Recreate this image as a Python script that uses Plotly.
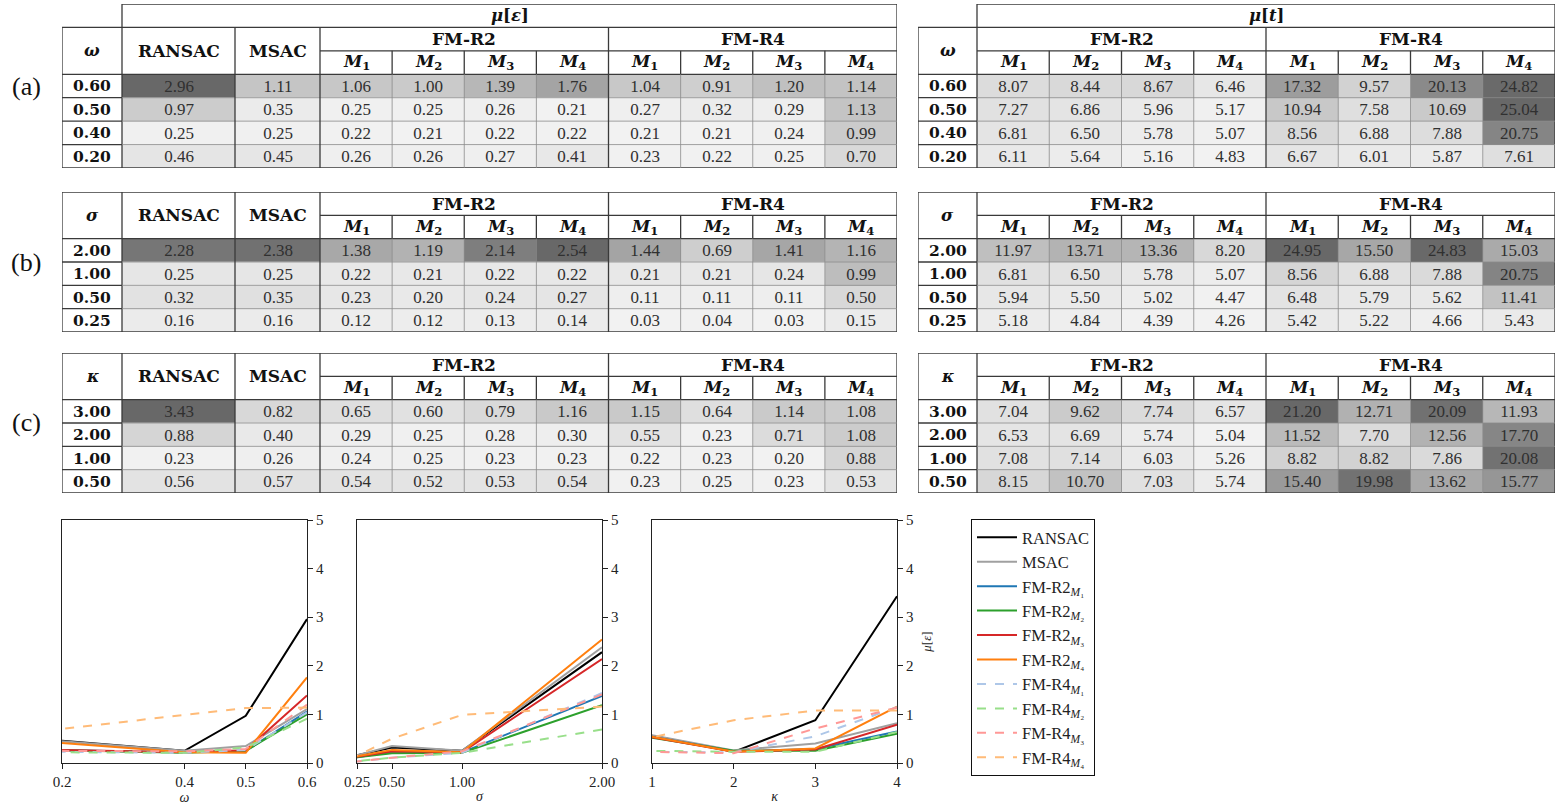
import plotly.graph_objects as go

# ---------------------------------------------------------------- data
omega = [0.60, 0.50, 0.40, 0.20]
sigma = [2.00, 1.00, 0.50, 0.25]
kappa = [3.00, 2.00, 1.00, 0.50]

methods = ["M₁", "M₂", "M₃", "M₄"]
groups = ["FM-R2", "FM-R4"]
baselines = ["RANSAC", "MSAC"]

# mean error mu[eps], varying omega
eps_omega_ransac = [2.96, 0.97, 0.25, 0.46]
eps_omega_msac = [1.11, 0.35, 0.25, 0.45]
eps_omega_r2 = [[1.06, 1.00, 1.39, 1.76], [0.25, 0.25, 0.26, 0.21],
                [0.22, 0.21, 0.22, 0.22], [0.26, 0.26, 0.27, 0.41]]
eps_omega_r4 = [[1.04, 0.91, 1.20, 1.14], [0.27, 0.32, 0.29, 1.13],
                [0.21, 0.21, 0.24, 0.99], [0.23, 0.22, 0.25, 0.70]]
# mean time mu[t], varying omega
time_omega_r2 = [[8.07, 8.44, 8.67, 6.46], [7.27, 6.86, 5.96, 5.17],
                 [6.81, 6.50, 5.78, 5.07], [6.11, 5.64, 5.16, 4.83]]
time_omega_r4 = [[17.32, 9.57, 20.13, 24.82], [10.94, 7.58, 10.69, 25.04],
                 [8.56, 6.88, 7.88, 20.75], [6.67, 6.01, 5.87, 7.61]]

# varying sigma
eps_sigma_ransac = [2.28, 0.25, 0.32, 0.16]
eps_sigma_msac = [2.38, 0.25, 0.35, 0.16]
eps_sigma_r2 = [[1.38, 1.19, 2.14, 2.54], [0.22, 0.21, 0.22, 0.22],
                [0.23, 0.20, 0.24, 0.27], [0.12, 0.12, 0.13, 0.14]]
eps_sigma_r4 = [[1.44, 0.69, 1.41, 1.16], [0.21, 0.21, 0.24, 0.99],
                [0.11, 0.11, 0.11, 0.50], [0.03, 0.04, 0.03, 0.15]]
time_sigma_r2 = [[11.97, 13.71, 13.36, 8.20], [6.81, 6.50, 5.78, 5.07],
                 [5.94, 5.50, 5.02, 4.47], [5.18, 4.84, 4.39, 4.26]]
time_sigma_r4 = [[24.95, 15.50, 24.83, 15.03], [8.56, 6.88, 7.88, 20.75],
                 [6.48, 5.79, 5.62, 11.41], [5.42, 5.22, 4.66, 5.43]]

# varying kappa
eps_kappa_ransac = [3.43, 0.88, 0.23, 0.56]
eps_kappa_msac = [0.82, 0.40, 0.26, 0.57]
eps_kappa_r2 = [[0.65, 0.60, 0.79, 1.16], [0.29, 0.25, 0.28, 0.30],
                [0.24, 0.25, 0.23, 0.23], [0.54, 0.52, 0.53, 0.54]]
eps_kappa_r4 = [[1.15, 0.64, 1.14, 1.08], [0.55, 0.23, 0.71, 1.08],
                [0.22, 0.23, 0.20, 0.88], [0.23, 0.25, 0.23, 0.53]]
time_kappa_r2 = [[7.04, 9.62, 7.74, 6.57], [6.53, 6.69, 5.74, 5.04],
                 [7.08, 7.14, 6.03, 5.26], [8.15, 10.70, 7.03, 5.74]]
time_kappa_r4 = [[21.20, 12.71, 20.09, 11.93], [11.52, 7.70, 12.56, 17.70],
                 [8.82, 8.82, 7.86, 20.08], [15.40, 19.98, 13.62, 15.77]]

# ---------------------------------------------------------------- layout helpers
W, H = 1557, 805
SERIF = "Liberation Serif, DejaVu Serif, serif"
BOLD = "DejaVu Serif, Liberation Serif, serif"
GREYS = [[0.0, "#f2f2f2"], [1.0, "#686868"]]
MAJOR = dict(color="#3a3a3a", width=1.3)
MINOR = dict(color="#8c8c8c", width=0.8)

fig = go.Figure()
layout_axes = {}
annotations = []
shapes = []


def dom_x(a, b):
    return [a / W, b / W]


def dom_y(a, b):
    return [1 - b / H, 1 - a / H]


def line(ax, x0, y0, x1, y1, style):
    shapes.append(dict(type="line", xref=f"x{ax}", yref=f"y{ax}", x0=x0, y0=y0,
                       x1=x1, y1=y1, line=style, layer="above"))


def text(ax, x, y, s, font):
    annotations.append(dict(xref=f"x{ax}", yref=f"y{ax}", x=x, y=y, text=s,
                            showarrow=False, font=font, xanchor="center",
                            yanchor="middle"))


def add_table(ax, left, top, bottom, col_w, symbol, rows, lead, lead_vals,
              grp_vals, mu_text=None):
    """One shaded table: label column, optional baseline columns, 2 groups x 4 methods."""
    hdr = 3 if mu_text else 2
    nrows = hdr + len(rows)
    edges = [0.0]
    for w in col_w:
        edges.append(edges[-1] + w)
    total = edges[-1]
    c0 = edges[1]
    n_lead = len(lead)
    m_start = edges[1 + n_lead]

    # matrix of cell values, row by row
    z = []
    for i in range(len(rows)):
        r = [lv[i] for lv in lead_vals]
        for g in grp_vals:
            r += g[i]
        z.append(r)

    layout_axes[f"xaxis{ax}"] = dict(domain=dom_x(left, left + total), range=[0, total],
                                     visible=False, fixedrange=True, anchor=f"y{ax}",
                                     automargin=False)
    layout_axes[f"yaxis{ax}"] = dict(domain=dom_y(top, bottom), range=[nrows, 0],
                                     visible=False, fixedrange=True, anchor=f"x{ax}",
                                     automargin=False)

    fig.add_trace(go.Heatmap(
        z=z, x=edges[1:], y=list(range(hdr, nrows + 1)),
        xaxis=f"x{ax}", yaxis=f"y{ax}", colorscale=GREYS, showscale=False,
        texttemplate="%{z:.2f}", textfont=dict(family=SERIF, size=17, color="#303030"),
        hoverinfo="skip"))

    # frame
    if mu_text:
        line(ax, c0, 0, total, 0, MAJOR)
        line(ax, 0, 1, total, 1, MAJOR)
        line(ax, 0, 1, 0, nrows, MAJOR)
        line(ax, c0, 0, c0, nrows, MAJOR)
    else:
        line(ax, 0, 0, total, 0, MAJOR)
        line(ax, 0, 0, 0, nrows, MAJOR)
        line(ax, c0, 0, c0, nrows, MAJOR)
    line(ax, total, 0, total, nrows, MAJOR)
    line(ax, 0, nrows, total, nrows, MAJOR)
    line(ax, 0, hdr, total, hdr, MAJOR)
    line(ax, m_start, hdr - 1, total, hdr - 1, MAJOR)
    # data-row separators
    for k in range(hdr + 1, nrows):
        line(ax, 0, k, c0, k, MAJOR)
        line(ax, c0, k, total, k, MINOR)
    # column separators
    for j in range(2, 2 + n_lead):
        line(ax, edges[j], hdr - 2, edges[j], nrows, MAJOR)
    for gi in range(len(groups)):
        xg = edges[1 + n_lead + 4 * gi]
        if gi > 0:
            line(ax, xg, hdr - 2, xg, nrows, MAJOR)
        for mi in range(1, 4):
            xm = edges[1 + n_lead + 4 * gi + mi]
            line(ax, xm, hdr - 1, xm, hdr, MAJOR)
            line(ax, xm, hdr, xm, nrows, MINOR)

    hfont = dict(family=BOLD, size=17, color="#111")
    if mu_text:
        text(ax, (c0 + total) / 2, 0.5, mu_text, dict(family=BOLD, size=16.5, color="#111"))
    text(ax, c0 / 2, hdr - 1, f"<b><i>{symbol}</i></b>", dict(family=BOLD, size=16.5, color="#111"))
    for j, name in enumerate(lead):
        text(ax, (edges[1 + j] + edges[2 + j]) / 2, hdr - 1, f"<b>{name}</b>", hfont)
    for gi, g in enumerate(groups):
        a = edges[1 + n_lead + 4 * gi]
        b = edges[1 + n_lead + 4 * (gi + 1)]
        text(ax, (a + b) / 2, hdr - 1.5, f"<b>{g}</b>", hfont)
        for mi, m in enumerate(methods):
            xa = edges[1 + n_lead + 4 * gi + mi]
            xb = edges[2 + n_lead + 4 * gi + mi]
            text(ax, (xa + xb) / 2, hdr - 0.5,
                 f"<b><i>M</i></b><sub><b>{mi + 1}</b></sub>",
                 dict(family=BOLD, size=16.5, color="#111"))
    for i, v in enumerate(rows):
        text(ax, c0 / 2, hdr + i + 0.5, f"<b>{v:.2f}</b>", dict(family=BOLD, size=15.5, color="#111"))


EPS_COLS = [60, 113, 85] + [72.125] * 8
TIME_COLS = [59] + [72.25] * 8
MU_EPS = "<b><i>μ</i>[<i>ε</i>]</b>"
MU_T = "<b><i>μ</i>[<i>t</i>]</b>"

add_table(1, 62, 4, 168, EPS_COLS, "ω", omega, baselines,
          [eps_omega_ransac, eps_omega_msac], [eps_omega_r2, eps_omega_r4], MU_EPS)
add_table(2, 918, 4, 168, TIME_COLS, "ω", omega, [], [],
          [time_omega_r2, time_omega_r4], MU_T)
add_table(3, 62, 192, 332, EPS_COLS, "σ", sigma, baselines,
          [eps_sigma_ransac, eps_sigma_msac], [eps_sigma_r2, eps_sigma_r4])
add_table(4, 918, 192, 332, TIME_COLS, "σ", sigma, [], [],
          [time_sigma_r2, time_sigma_r4])
add_table(5, 62, 353, 493, EPS_COLS, "κ", kappa, baselines,
          [eps_kappa_ransac, eps_kappa_msac], [eps_kappa_r2, eps_kappa_r4])
add_table(6, 918, 353, 493, TIME_COLS, "κ", kappa, [], [],
          [time_kappa_r2, time_kappa_r4])

for lab, yc in (("(a)", 86), ("(b)", 262), ("(c)", 423)):
    annotations.append(dict(xref="paper", yref="paper", x=26 / W, y=1 - yc / H, text=lab,
                            showarrow=False, font=dict(family=SERIF, size=26, color="#111"),
                            xanchor="center", yanchor="middle"))

# ---------------------------------------------------------------- line charts
series_names = (["RANSAC", "MSAC"] + [f"FM-R2<sub><i>M</i>{s}</sub>" for s in "₁₂₃₄"]
                + [f"FM-R4<sub><i>M</i>{s}</sub>" for s in "₁₂₃₄"])
series_colors = ["#000000", "#a0a0a0", "#1f77b4", "#2ca02c", "#d62728", "#ff7f0e",
                 "#aec7e8", "#98df8a", "#ff9896", "#ffbb78"]
series_dash = ["solid"] * 6 + ["dash"] * 4

kappa_pos = [len(kappa) - i for i in range(len(kappa))]

panels = [
    (7, 62, omega, [f"{v:.1f}" for v in omega], "<i>ω</i>",
     eps_omega_ransac, eps_omega_msac, eps_omega_r2, eps_omega_r4, [0.2, 0.6]),
    (8, 357, sigma, [f"{v:.2f}" for v in sigma], "<i>σ</i>",
     eps_sigma_ransac, eps_sigma_msac, eps_sigma_r2, eps_sigma_r4, [0.25, 2.0]),
    (9, 652, kappa_pos, [str(p) for p in kappa_pos], "<i>κ</i>",
     eps_kappa_ransac, eps_kappa_msac, eps_kappa_r2, eps_kappa_r4, [1, 4]),
]

for ax, left, xs, xt, xtitle, ran, msa, r2, r4, xr in panels:
    ys = [ran, msa] + [[row[m] for row in r2] for m in range(4)] + \
         [[row[m] for row in r4] for m in range(4)]
    for k, y in enumerate(ys):
        fig.add_trace(go.Scatter(
            x=xs, y=y, mode="lines", name=series_names[k], legendgroup=series_names[k],
            showlegend=(ax == 7), xaxis=f"x{ax}", yaxis=f"y{ax}",
            line=dict(color=series_colors[k], width=2, dash=series_dash[k]),
            hoverinfo="skip"))
    tick_font = dict(family=SERIF, size=15, color="#222")
    layout_axes[f"xaxis{ax}"] = dict(
        domain=dom_x(left, left + 245), range=xr, anchor=f"y{ax}", automargin=False,
        tickvals=xs, ticktext=xt, ticks="outside", ticklen=5, tickcolor="#222",
        showline=True, mirror=True, linecolor="#222", linewidth=1.2,
        showgrid=False, zeroline=False, tickfont=tick_font,
        title=dict(text=xtitle, font=dict(family=SERIF, size=14, color="#222"), standoff=2))
    ya = dict(
        domain=dom_y(520, 763), range=[0, 5], anchor=f"x{ax}", side="right",
        automargin=False,
        tickvals=[0, 1, 2, 3, 4, 5], ticks="outside", ticklen=5, tickcolor="#222",
        showline=True, mirror=True, linecolor="#222", linewidth=1.2,
        showgrid=False, zeroline=False, tickfont=tick_font)
    if ax == 9:
        ya["title"] = dict(text="<i>μ</i>[<i>ε</i>]",
                           font=dict(family=SERIF, size=13, color="#222"), standoff=8)
    layout_axes[f"yaxis{ax}"] = ya

fig.update_layout(
    width=W, height=H, margin=dict(l=0, r=0, t=0, b=0, autoexpand=False),
    paper_bgcolor="white", plot_bgcolor="white",
    showlegend=True,
    legend=dict(x=971 / W, y=1 - 519 / H, xanchor="left", yanchor="top",
                bordercolor="#111", borderwidth=1, bgcolor="white",
                font=dict(family=SERIF, size=16.5, color="#222"),
                tracegroupgap=0, itemwidth=40),
    annotations=annotations, shapes=shapes,
    **layout_axes)

fig.write_html("out.html")
